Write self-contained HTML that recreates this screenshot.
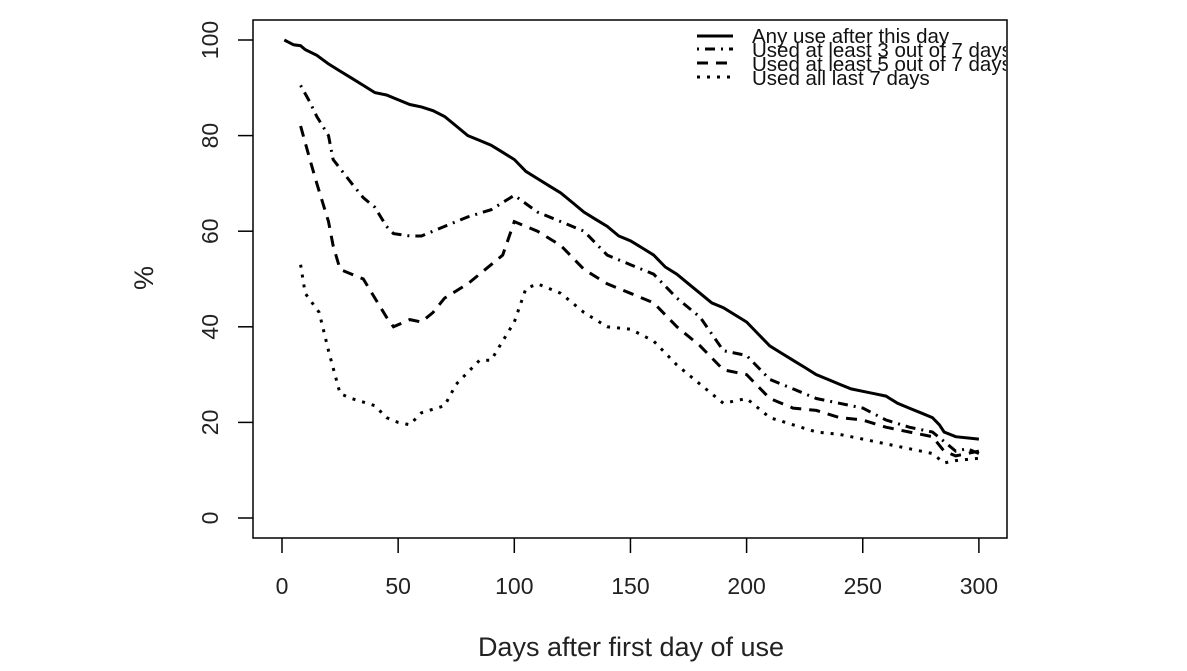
<!DOCTYPE html>
<html><head><meta charset="utf-8"><style>
html,body{margin:0;padding:0;background:#fff;}
svg{display:block;font-family:"Liberation Sans",Arial,sans-serif;}
</style></head><body>
<svg id="s" width="1187" height="671" viewBox="0 0 1187 671" xmlns="http://www.w3.org/2000/svg">
<rect x="253" y="20" width="754" height="518" fill="none" stroke="#000" stroke-width="1.5"/>
<g id="ax" stroke="#000" stroke-width="1.5"></g>
<g id="lab" font-size="23" fill="#222"></g>
<text x="631" y="656" font-size="27" text-anchor="middle" fill="#222">Days after first day of use</text>
<text transform="translate(153,278) rotate(-90)" font-size="27" text-anchor="middle" fill="#222">%</text>
<g id="curves" fill="none" stroke="#000" stroke-width="3"></g>
<g font-size="20.5" fill="#111">
<line x1="697" y1="36" x2="733" y2="36" stroke="#000" stroke-width="3"/>
<line x1="697" y1="49" x2="733" y2="49" stroke="#000" stroke-width="3" stroke-dasharray="2 6 10 6"/>
<line x1="697" y1="63" x2="733" y2="63" stroke="#000" stroke-width="3" stroke-dasharray="11 8"/>
<line x1="697" y1="77" x2="733" y2="77" stroke="#000" stroke-width="3" stroke-dasharray="3 7"/>
<svg x="0" y="0" width="1006" height="671" overflow="hidden">
<text x="752" y="43">Any use after this day</text>
<text x="752" y="57">Used at least 3 out of 7 days</text>
<text x="752" y="71">Used at least 5 out of 7 days</text>
<text x="752" y="85">Used all last 7 days</text>
</svg>
</g>
</svg>
<script>
var NS="http://www.w3.org/2000/svg";
function X(d){return 282+d*2.323;}
function Y(v){return 518-v*4.78;}
function el(t,a,p){var e=document.createElementNS(NS,t);for(var k in a)e.setAttribute(k,a[k]);p.appendChild(e);return e;}
var ax=document.getElementById('ax'),lab=document.getElementById('lab');
for(var d=0;d<=300;d+=50){el('line',{x1:X(d),y1:538,x2:X(d),y2:553},ax);var t=el('text',{x:X(d),y:594,'text-anchor':'middle'},lab);t.textContent=d;}
for(var v=0;v<=100;v+=20){el('line',{x1:238,y1:Y(v),x2:253,y2:Y(v)},ax);var t=el('text',{transform:'translate(218,'+Y(v)+') rotate(-90)','text-anchor':'middle'},lab);t.textContent=v;}
var S=[[1,100],[3,99.5],[5,99],[8,98.8],[10,98],[15,96.8],[20,95],[25,93.5],[30,92],[35,90.5],[40,89],[45,88.5],[50,87.5],[55,86.5],[60,86],[65,85.2],[70,84],[75,82],[80,80],[85,79],[90,78],[95,76.5],[100,75],[105,72.5],[110,71],[115,69.5],[120,68],[125,66],[130,64],[135,62.5],[140,61],[145,59],[150,58],[155,56.5],[160,55],[165,52.5],[170,51],[175,49],[180,47],[185,45],[190,44],[195,42.5],[200,41],[205,38.5],[210,36],[215,34.5],[220,33],[225,31.5],[230,30],[235,29],[240,28],[245,27],[250,26.5],[255,26],[260,25.5],[265,24],[270,23],[275,22],[280,21],[283,19.5],[285,18],[290,17],[300,16.5]];
var A=[[8,90.5],[12,87],[15,84],[20,80],[22,75],[30,70],[35,67],[40,65],[45,61],[48,59.5],[55,59],[60,59],[70,61],[80,63],[90,64.5],[100,67.5],[110,64],[120,62],[130,60],[140,55],[150,53],[160,51],[170,46],[180,42],[190,35],[200,34],[210,29],[220,27],[230,25],[240,24],[250,23],[260,20.5],[270,19],[280,18],[285,16],[290,14],[295,14.5],[300,13.5]];
var B=[[8,82],[12,75],[15,70],[20,62],[22,57],[25,52],[30,51],[35,50],[40,46],[45,42],[48,40],[55,41.5],[60,41],[65,43],[70,46],[80,49],[90,53],[95,55],[100,62],[110,60],[120,57],[130,52],[140,49],[150,47],[160,45],[170,40],[180,36],[190,31],[200,30],[210,25],[220,23],[230,22.5],[240,21],[250,20.5],[260,19],[270,18],[280,17],[285,14],[290,13],[300,14]];
var C=[[8,53],[10,47],[13,45],[16,43],[20,35],[25,26],[30,25],[40,23.5],[45,21],[50,20],[55,19.5],[60,22],[70,23.5],[75,28],[85,33],[90,33],[95,37],[100,41],[105,48],[110,49],[120,47],[130,43],[140,40],[150,39.5],[160,37],[170,32],[180,28],[190,24],[200,25],[210,21],[220,19.5],[230,18],[240,17.5],[250,16.5],[260,15.5],[270,14.5],[280,13.5],[285,11.5],[290,12],[300,12.5]];
var g=document.getElementById('curves');
function P(a){return a.map(function(p,i){return (i?'L':'M')+X(p[0]).toFixed(1)+' '+Y(p[1]).toFixed(1);}).join(' ');}
el('path',{d:P(S)},g);
el('path',{d:P(A),'stroke-dasharray':'2 6 10 6'},g);
el('path',{d:P(B),'stroke-dasharray':'11 8'},g);
el('path',{d:P(C),'stroke-dasharray':'3 7'},g);
</script>
</body></html>
